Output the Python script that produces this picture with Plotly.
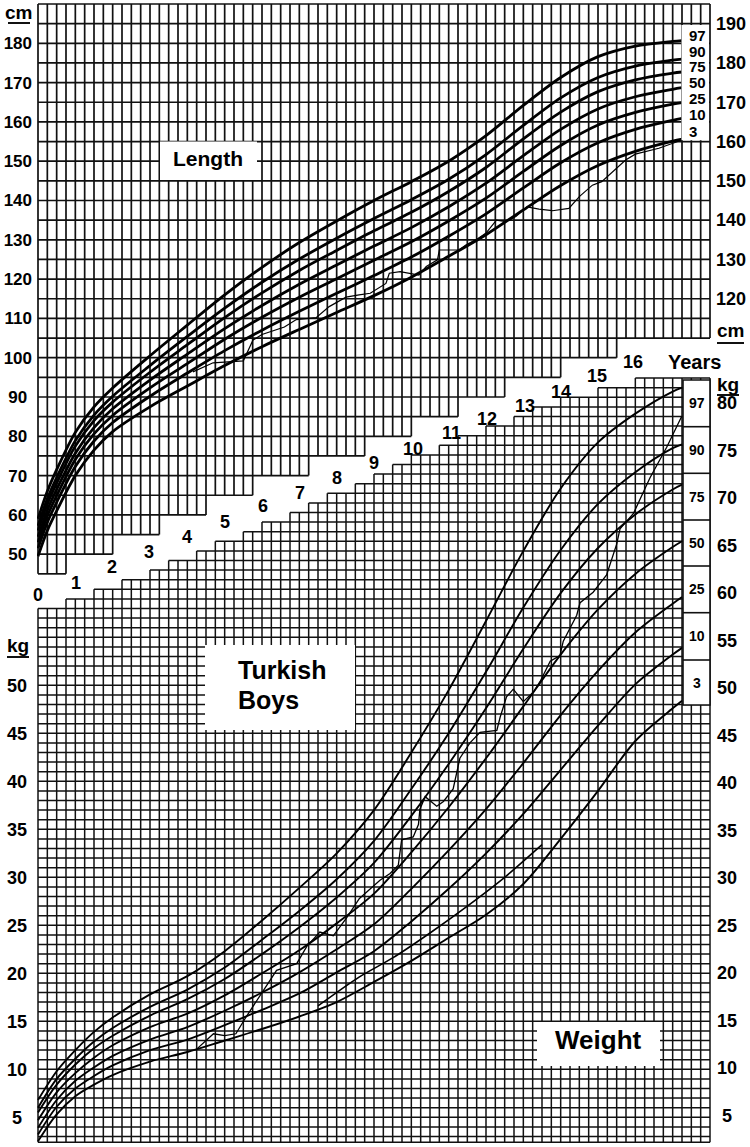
import numpy as np
import plotly.graph_objects as go

# ---------------- data ----------------
age_len = [0, 0.25, 0.5, 1, 1.5, 2, 3, 4, 5, 6, 7, 8, 9, 10, 11, 12, 13, 14, 15, 16, 17, 17.25]
len_p97 = [59.0, 66.0, 71.5, 81.0, 87.5, 92.3, 100.5, 108.3, 116.0, 123.0, 129.3, 134.8, 140.0, 144.8, 150.0, 156.5, 164.2, 171.3, 176.6, 179.3, 180.5, 180.7]
len_p90 = [57.2, 64.1, 69.5, 78.9, 85.4, 90.2, 98.0, 105.4, 112.6, 119.2, 125.1, 130.4, 135.4, 140.2, 145.4, 151.7, 159.1, 166.1, 171.3, 174.2, 175.7, 176.0]
len_p75 = [56.0, 62.8, 68.1, 77.5, 84.0, 88.7, 96.3, 103.3, 110.2, 116.5, 122.2, 127.3, 132.3, 137.0, 142.3, 148.4, 155.7, 162.5, 167.7, 170.7, 172.4, 172.7]
len_p50 = [54.4, 61.2, 66.5, 75.7, 82.2, 87.0, 94.3, 100.9, 107.4, 113.3, 118.7, 123.6, 128.4, 133.1, 138.4, 144.4, 151.4, 158.1, 163.3, 166.4, 168.3, 168.7]
len_p25 = [53.0, 59.7, 64.9, 74.1, 80.6, 85.3, 92.3, 98.5, 104.7, 110.3, 115.4, 120.1, 124.8, 129.5, 134.8, 140.6, 147.4, 154.0, 159.2, 162.4, 164.5, 164.9]
len_p10 = [51.5, 58.1, 63.2, 72.3, 78.8, 83.5, 90.2, 96.1, 101.8, 107.0, 111.8, 116.4, 120.9, 125.6, 130.9, 136.6, 143.2, 149.6, 154.7, 158.1, 160.4, 160.9]
len_p3 = [49.5, 56.0, 61.0, 70.0, 76.5, 81.2, 87.5, 92.8, 98.0, 102.8, 107.2, 111.5, 115.8, 120.5, 125.8, 131.3, 137.6, 143.8, 148.9, 152.5, 155.1, 155.6]

pat_len_age = [4.15, 4.69, 5.5, 5.76, 6.0, 6.6, 6.92, 7.45, 7.8, 8.25, 8.6, 8.9, 9.32, 9.41, 9.7, 10.2, 10.4,
               10.7, 10.75, 11.28, 11.46, 11.8, 12.0, 12.28, 12.53, 12.8, 13.1, 13.42, 13.78, 14.22, 14.5,
               14.85, 15.1, 15.74, 16.0, 16.63, 17.25]
pat_len_cm = [96.4, 98.7, 99.2, 104.5, 105.9, 107.8, 109.7, 110.2, 113.0, 115.4, 116.0, 116.4, 118.9, 121.5,
              121.9, 121.0, 123.2, 124.9, 127.4, 127.4, 128.7, 130.4, 131.7, 135.0, 134.6, 135.9, 138.4,
              137.8, 137.4, 138.0, 141.0, 143.9, 144.8, 150.3, 151.8, 153.3, 155.4]

age_wt = [0, 0.5, 1, 1.5, 2, 3, 4, 5, 6, 7, 8, 9, 10, 11, 12, 13, 14, 15, 16, 17, 17.25]
wt_p97 = [6.8, 9.8, 12.0, 13.9, 15.4, 17.8, 19.7, 22.3, 25.5, 28.9, 32.5, 37.0, 43.0, 49.5, 56.7, 64.0, 70.5, 75.3, 78.3, 80.6, 81.0]
wt_p90 = [6.0, 9.0, 11.1, 12.9, 14.3, 16.5, 18.3, 20.6, 23.5, 26.5, 29.8, 33.8, 39.2, 45.0, 51.4, 58.1, 64.1, 68.9, 72.2, 74.7, 75.1]
wt_p75 = [5.5, 8.4, 10.5, 12.2, 13.5, 15.6, 17.3, 19.4, 22.0, 24.8, 27.9, 31.5, 36.4, 41.8, 47.6, 53.8, 59.6, 64.3, 67.8, 70.4, 70.9]
wt_p50 = [4.7, 7.6, 9.6, 11.2, 12.5, 14.4, 15.8, 17.7, 20.0, 22.4, 25.2, 28.3, 32.6, 37.3, 42.4, 47.8, 53.2, 57.9, 61.6, 64.4, 65.0]
wt_p25 = [3.9, 6.8, 8.8, 10.2, 11.4, 13.1, 14.4, 16.1, 18.0, 20.1, 22.5, 25.1, 28.8, 32.8, 37.1, 41.9, 46.9, 51.5, 55.5, 58.5, 59.2]
wt_p10 = [3.2, 6.1, 8.0, 9.3, 10.4, 12.0, 13.1, 14.6, 16.2, 17.9, 20.1, 22.3, 25.4, 28.8, 32.5, 36.6, 41.2, 45.8, 50.1, 53.2, 53.9]
wt_p3 = [2.5, 5.3, 7.2, 8.4, 9.4, 10.8, 11.8, 13.0, 14.2, 15.5, 17.0, 19.1, 21.3, 23.7, 26.1, 29.3, 34.0, 39.0, 44.2, 47.6, 48.4]

# short extra line between the 3rd and 10th weight curves (ends abruptly near 13.5 years)
extra_wt_age = [7.5, 8.6, 9.5, 10.5, 11.5, 12.5, 13.5]
extra_wt_kg = [16.6, 19.6, 21.6, 24.2, 27.0, 30.0, 33.4]

pat_wt_age = [4.25, 4.7, 5.0, 5.3, 5.59, 6.03, 6.39, 6.93, 7.2, 7.55, 7.91, 8.27, 8.61, 9.16, 9.43, 9.65, 9.74,
              10.05, 10.19, 10.23, 10.37, 10.68, 10.86, 11.12, 11.22, 11.3, 11.57, 11.84, 12.29, 12.38, 12.55,
              12.73, 13.0, 13.27, 13.45, 13.72, 13.98, 14.07, 14.43, 14.52, 14.87, 15.23, 15.5, 15.59, 15.95,
              16.39, 16.84, 17.24]
pat_wt_kg = [12.1, 13.7, 13.5, 13.7, 15.55, 18.1, 20.3, 21.0, 22.8, 24.3, 23.9, 25.8, 27.8, 29.7, 30.4, 31.25,
             33.9, 34.2, 35.5, 37.1, 38.4, 37.4, 37.9, 39.2, 40.8, 42.4, 44.0, 45.1, 45.3, 46.7, 48.8, 49.6,
             48.3, 49.3, 50.4, 52.5, 53.1, 54.6, 57.3, 58.6, 59.7, 61.5, 64.7, 66.3, 67.9, 71.6, 74.8, 78.0]

percentiles = ["97", "90", "75", "50", "25", "10", "3"]
age_ticks = list(range(0, 17))
len_left_ticks = list(range(50, 181, 10))
len_right_ticks = list(range(120, 191, 10))
wt_left_ticks = list(range(5, 51, 5))
wt_right_ticks = list(range(5, 81, 5))

# diagonal white band limits (length grid lower limit, weight grid upper limit)
band_top_age = [0, 6.83, 8.36, 9.51, 10.69, 11.92, 13.26, 14.87, 15.78, 17.2, 18]
band_top_cm = [44.5, 70.9, 76.0, 80.1, 85.1, 89.5, 94.5, 99.6, 102.9, 105.5, 106.5]
band_bot_age = [0, 1.04, 2.73, 3.80, 5.22, 8.63, 10.42, 12.19, 13.98, 15.78, 16.21, 18]
band_bot_kg = [57.5, 59.2, 61.3, 63.05, 65.3, 71.1, 74.3, 77.0, 79.6, 81.5, 81.8, 81.8]

# ---------------- geometry ----------------
FW, FH = 750, 1147
LM, RM, TM, BM = 37, 39, 3, 3
PW, PH = FW - LM - RM, FH - TM - BM
PX_YEAR = 672 / 18.0
PX_CM = 3.93
PX_KG_L = 9.6
PX_KG_R = 9.5


def xp(px):
    return (px - LM) / PW


def yp(py):
    return (FH - BM - py) / PH


x_range = [(LM - 38) / PX_YEAR, (LM + PW - 38) / PX_YEAR]
len_top = 180 + (43.3 - TM) / PX_CM
len_range = [len_top - PH / PX_CM, len_top]
wl_top = 20 + (973.3 - TM) / PX_KG_L
wl_range = [wl_top - PH / PX_KG_L, wl_top]
wr_top = 20 + (973.0 - TM) / PX_KG_R
wr_range = [wr_top - PH / PX_KG_R, wr_top]

FONT = "Liberation Sans, Arial, Helvetica, sans-serif"
INK = "#111111"

fig = go.Figure()

# ---------------- grids ----------------
grid_ages = [round(a, 2) for a in np.arange(0, 18.0001, 0.25)]
vbot = {a: 5 * round(float(np.interp(a, band_top_age, band_top_cm)) / 5) for a in grid_ages}
gx, gy = [], []
for a in grid_ages:
    gx += [a, a, None]
    gy += [190, vbot[a], None]
for lev in range(45, 191, 5):
    ok = [a for a in grid_ages if vbot[a] <= lev]
    if ok:
        gx += [0, max(ok), None]
        gy += [lev, lev, None]
fig.add_trace(go.Scatter(x=gx, y=gy, mode="lines", line=dict(color=INK, width=1.7),
                         hoverinfo="skip", showlegend=False, yaxis="y"))

wbottom = 20 - (1142.3 - 973.3) / PX_KG_L
vtop = {a: round(float(np.interp(a, band_bot_age, band_bot_kg))) for a in grid_ages}
wx, wy = [], []
for a in grid_ages:
    wx += [a, a, None]
    wy += [wbottom, vtop[a], None]
for lev in range(3, 83):
    ok = [a for a in grid_ages if vtop[a] >= lev]
    if ok:
        wx += [min(ok), 18, None]
        wy += [lev, lev, None]
wx += [0, 18, None]
wy += [wbottom, wbottom, None]
fig.add_trace(go.Scatter(x=wx, y=wy, mode="lines", line=dict(color=INK, width=1.5),
                         hoverinfo="skip", showlegend=False, yaxis="y3"))

# ---------------- curves ----------------
for name, vals in zip(percentiles, [len_p97, len_p90, len_p75, len_p50, len_p25, len_p10, len_p3]):
    fig.add_trace(go.Scatter(x=age_len, y=vals, mode="lines", name="Length P" + name,
                             line=dict(color="#000", width=2.8, shape="spline", smoothing=0.9),
                             showlegend=False, yaxis="y"))
fig.add_trace(go.Scatter(x=pat_len_age, y=pat_len_cm, mode="lines", name="Patient length",
                         line=dict(color="#000", width=1.2), showlegend=False, yaxis="y"))

for name, vals in zip(percentiles, [wt_p97, wt_p90, wt_p75, wt_p50, wt_p25, wt_p10, wt_p3]):
    fig.add_trace(go.Scatter(x=age_wt, y=vals, mode="lines", name="Weight P" + name,
                             line=dict(color="#000", width=1.9, shape="spline", smoothing=0.9),
                             showlegend=False, yaxis="y3"))
fig.add_trace(go.Scatter(x=extra_wt_age, y=extra_wt_kg, mode="lines", name="extra",
                         line=dict(color="#000", width=1.6, shape="spline", smoothing=0.8),
                         showlegend=False, yaxis="y3"))
fig.add_trace(go.Scatter(x=pat_wt_age, y=pat_wt_kg, mode="lines", name="Patient weight",
                         line=dict(color="#000", width=1.3), showlegend=False, yaxis="y3"))

# ---------------- white boxes / label column ----------------
shapes = []


def white_box(x0, y0, x1, y1, line=False):
    shapes.append(dict(type="rect", xref="paper", yref="paper", x0=xp(x0), x1=xp(x1), y0=yp(y1), y1=yp(y0),
                       fillcolor="white", line=dict(color=INK if line else "white", width=1.6 if line else 0),
                       layer="above"))


def hline(x0, x1, y, w=1.6):
    shapes.append(dict(type="line", xref="paper", yref="paper", x0=xp(x0), x1=xp(x1), y0=yp(y), y1=yp(y),
                       line=dict(color=INK, width=w), layer="above"))


white_box(160, 141.5, 257, 180)          # Length
white_box(205, 645, 355, 730)            # Turkish Boys
white_box(537, 1022, 660, 1066)          # Weight
white_box(681.5, 25, 709, 140.3)         # length percentile labels
white_box(683, 380, 710, 705, line=True)  # weight percentile column
for yy in [426.7, 473.3, 520, 566, 612.7, 660]:
    hline(683, 710, yy)
# underlines of unit labels
hline(8, 30, 23, 2)
hline(7, 29, 657, 2)
hline(717, 744, 343, 2)
hline(717, 739, 395, 2)

# ---------------- annotations ----------------
ann = []


def text(px, py, s, size, anchor="center"):
    ann.append(dict(xref="paper", yref="paper", x=xp(px), y=yp(py), text="<b>" + s + "</b>", showarrow=False,
                    xanchor=anchor, yanchor="middle", font=dict(family=FONT, size=size, color="#000")))


age_lab_px = [(38, 595), (76, 583), (112, 567), (149, 552), (187, 537), (225, 522), (263, 506), (300, 493),
              (337, 478), (374, 463), (413, 449), (451, 433), (487, 419), (525, 406), (561, 392), (597, 376),
              (633, 362)]
for a, (px, py) in zip(age_ticks, age_lab_px):
    text(px, py, str(a), 18)
text(694, 362, "Years", 20)

len_lab_py = [35, 51, 67, 83, 99, 115, 131]
for s, py in zip(percentiles, len_lab_py):
    text(687, py, s, 15, anchor="left")
wt_lab_py = [403, 450, 497, 543, 589, 636, 683]
for s, py in zip(percentiles, wt_lab_py):
    text(697, py, s, 14)

text(18, 12, "cm", 19)
text(18, 645, "kg", 19)
text(731, 330, "cm", 19)
text(728, 384, "kg", 19)
text(208, 158, "Length", 21)
text(236, 670, "Turkish", 25, anchor="left")
text(236, 700, "Boys", 25, anchor="left")
text(598, 1040, "Weight", 26)

NB = "\u00a0"


def pad_left_axis(v):
    return "<b>" + str(v) + "</b>" + NB * (3 - len(str(v)))


def pad_right_axis(v):
    return NB * (2 - len(str(v))) + "<b>" + str(v) + "</b>" if len(str(v)) < 2 else "<b>" + str(v) + "</b>"


common = dict(showgrid=False, zeroline=False, showline=False, ticks="", fixedrange=True)
fig.update_layout(
    width=FW, height=FH, margin=dict(l=LM, r=RM, t=TM, b=BM),
    paper_bgcolor="white", plot_bgcolor="white", showlegend=False,
    xaxis=dict(range=x_range, visible=False, **common),
    yaxis=dict(range=len_range, side="left", tickvals=len_left_ticks,
               ticktext=[pad_left_axis(v) for v in len_left_ticks],
               tickfont=dict(family=FONT, size=17, color="#000"), ticklabelstandoff=4, **common),
    yaxis2=dict(range=[len_range[0] + 5, len_range[1] + 5], side="right", overlaying="y",
                tickvals=len_right_ticks, ticktext=["<b>%d</b>" % v for v in len_right_ticks],
                tickfont=dict(family=FONT, size=18, color="#000"), ticklabelstandoff=4, **common),
    yaxis3=dict(range=wl_range, side="left", overlaying="y", tickvals=wt_left_ticks,
                ticktext=[pad_left_axis(v) for v in wt_left_ticks],
                tickfont=dict(family=FONT, size=18, color="#000"), ticklabelstandoff=4, **common),
    yaxis4=dict(range=wr_range, side="right", overlaying="y", tickvals=wt_right_ticks,
                ticktext=[pad_right_axis(v) for v in wt_right_ticks],
                tickfont=dict(family=FONT, size=18, color="#000"), ticklabelstandoff=5, **common),
    shapes=shapes, annotations=ann,
)
# dummy traces so that the right-hand axes are drawn
fig.add_trace(go.Scatter(x=[None], y=[None], yaxis="y2", showlegend=False, hoverinfo="skip"))
fig.add_trace(go.Scatter(x=[None], y=[None], yaxis="y4", showlegend=False, hoverinfo="skip"))

fig.write_html("out.html")
